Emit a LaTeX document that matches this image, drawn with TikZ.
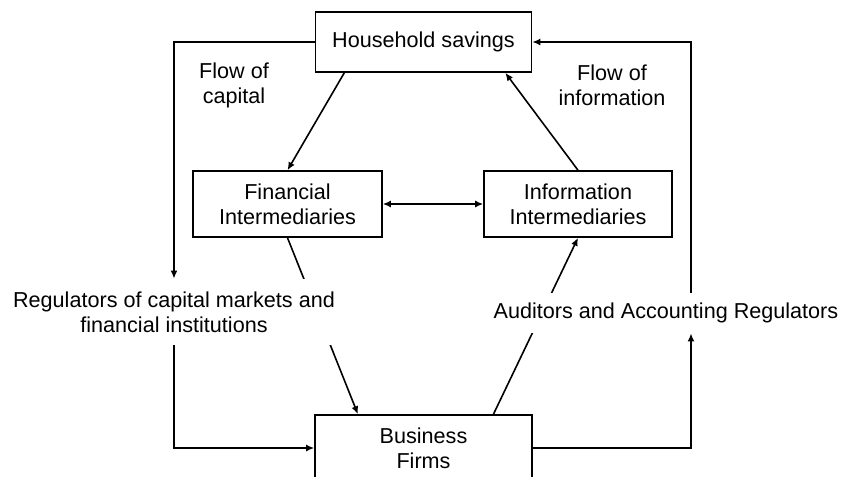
\documentclass[tikz,border=0pt]{standalone}
\usepackage{fontspec}
\setmainfont{Liberation Sans}
\usetikzlibrary{arrows.meta,calc,backgrounds}
\begin{document}
\begin{tikzpicture}[x=0.5pt,y=-0.5pt,
  font=\fontsize{10.8pt}{12.5pt}\selectfont,
  box/.style={draw,line width=0.8pt,fill=white,align=center,inner sep=0pt},
  lbl/.style={align=center,inner sep=0pt,fill=white},
  free/.style={align=center,inner sep=0pt},
  arr/.style={line width=0.8pt,-{Latex[length=4pt,width=3.5pt]}},
  darr/.style={line width=0.8pt,{Latex[length=4pt,width=3.5pt]}-{Latex[length=4pt,width=3.5pt]}}]
\useasboundingbox (0,0) rectangle (842,477);

\node[box,minimum width=108pt,minimum height=30pt] (hs) at (423.5,42) {Household savings};
\node[box,minimum width=94.5pt,minimum height=33pt] (fin) at (287.5,204) {Financial\\Intermediaries};
\node[box,minimum width=94pt,minimum height=33pt] (inf) at (578,204) {Information\\Intermediaries};
\node[box,minimum width=108.5pt,minimum height=33pt] (bus) at (423.5,448) {Business\\Firms};

\node[lbl,minimum height=33pt] (reg) at (174,312) {Regulators of capital markets and\\financial institutions};
\node[lbl,minimum height=20pt] (aud) at (666,313) {Auditors and Accounting Regulators};

\node[free] (foc) at (234,85) {Flow of\\capital};
\node[free] (foi) at (612,85) {Flow of\\information};

\draw[arr] (hs.west) -| (reg.north);
\draw[arr] (reg.south) |- (bus.west);
\draw[arr] (bus.east) -| ($(aud.south)+(25,0)$);
\draw[arr] ($(aud.north)+(25,0)$) |- (hs.east);
\draw[arr] ($(hs.south west)!0.136!(hs.south east)$) -- (fin.north);
\draw[arr] (inf.north) -- ($(hs.south west)!0.876!(hs.south east)$);
\draw[darr] (fin.east) -- (inf.west);

\begin{scope}[on background layer]
\draw[arr] (fin.south) -- ($(bus.north west)!0.2!(bus.north east)$);
\draw[arr] ($(bus.north west)!0.82!(bus.north east)$) -- (inf.south);
\end{scope}
\end{tikzpicture}
\end{document}
